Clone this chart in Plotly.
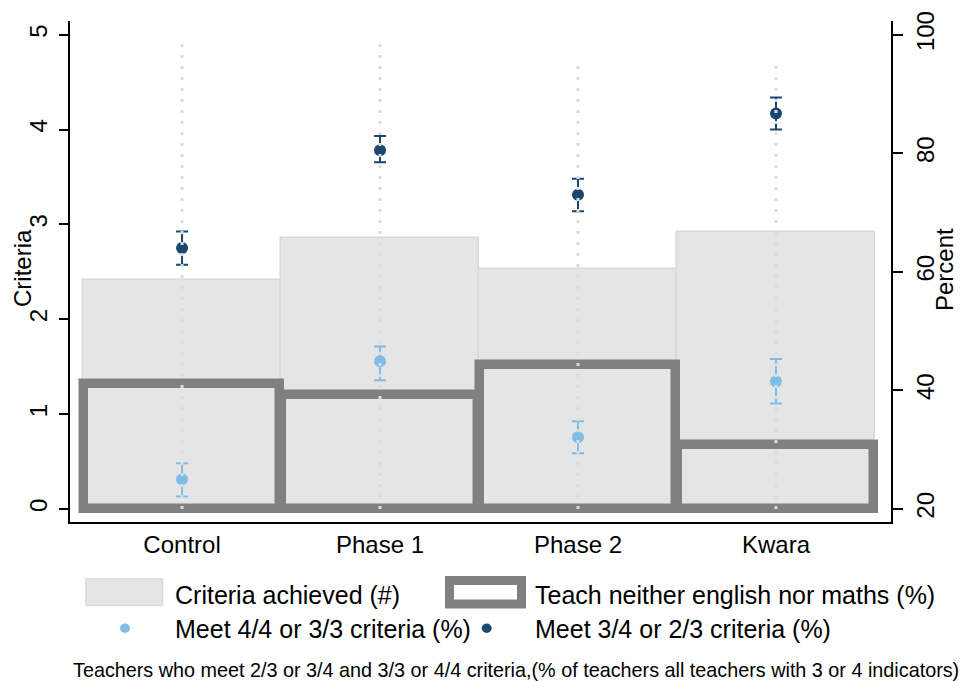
import plotly.graph_objects as go

# ---- data -------------------------------------------------------------
categories = ["Control", "Phase 1", "Phase 2", "Kwara"]

criteria_achieved = [2.41, 2.86, 2.53, 2.92]          # left axis (#)
teach_neither = [41.0, 39.3, 44.2, 30.7]               # right axis (%)

meet_full = [25.0, 44.9, 32.1, 41.5]                   # meet 4/4 or 3/3 (%)
meet_full_lo = [22.1, 41.7, 29.4, 37.8]
meet_full_hi = [27.7, 47.4, 34.8, 45.3]

meet_partial = [64.0, 80.5, 73.0, 86.7]                # meet 3/4 or 2/3 (%)
meet_partial_lo = [61.2, 78.5, 70.2, 84.0]
meet_partial_hi = [66.8, 82.9, 75.7, 89.4]

spread_top = [98.9, 98.9, 95.8, 95.8]                  # top of dotted spread (%)

left_ticks = [0, 1, 2, 3, 4, 5]
right_ticks = [20, 40, 60, 80, 100]

# ---- styling ----------------------------------------------------------
FONT = "Liberation Sans, Arial, sans-serif"
BAR_FILL = "#e5e5e5"
BAR_EDGE = "#d9d9d9"
OUTLINE = "#808080"
LIGHT = "#7fbde9"
DARK = "#1a476f"
DOTS = "#dcdcdc"

W, H = 966, 681
L, R, T, B = 70, 891, 21, 522      # plot area in pixels

x = list(range(len(categories)))


def px(xp):
    return (xp - L) / (R - L)


def py(yp):
    return (B - yp) / (B - T)


fig = go.Figure()

# grey bars: criteria achieved
fig.add_trace(go.Bar(
    x=x, y=criteria_achieved, width=1.0, base=0,
    marker=dict(color=BAR_FILL, line=dict(color=BAR_EDGE, width=1.5)),
    yaxis="y", showlegend=False, hoverinfo="skip",
))

# outlined bars: teach neither english nor maths
fig.add_trace(go.Bar(
    x=x, y=[v - 20 for v in teach_neither], base=20, width=0.99,
    marker=dict(color="rgba(0,0,0,0)", line=dict(color=OUTLINE, width=9.5)),
    yaxis="y2", showlegend=False, hoverinfo="skip",
))

# dark points with confidence intervals
fig.add_trace(go.Scatter(
    x=x, y=meet_partial, mode="markers", yaxis="y2",
    marker=dict(color=DARK, size=12, symbol="circle"),
    error_y=dict(type="data", symmetric=False,
                 array=[h - v for h, v in zip(meet_partial_hi, meet_partial)],
                 arrayminus=[v - l for v, l in zip(meet_partial, meet_partial_lo)],
                 color=DARK, thickness=2, width=6),
    showlegend=False, hoverinfo="skip",
))

# light points with confidence intervals
fig.add_trace(go.Scatter(
    x=x, y=meet_full, mode="markers", yaxis="y2",
    marker=dict(color=LIGHT, size=12, symbol="circle"),
    error_y=dict(type="data", symmetric=False,
                 array=[h - v for h, v in zip(meet_full_hi, meet_full)],
                 arrayminus=[v - l for v, l in zip(meet_full, meet_full_lo)],
                 color=LIGHT, thickness=2, width=6),
    showlegend=False, hoverinfo="skip",
))

# dotted spread columns drawn on top
sx, sy = [], []
for xi, top in zip(x, spread_top):
    sx += [xi, xi, None]
    sy += [20, top, None]
fig.add_trace(go.Scatter(
    x=sx, y=sy, mode="lines", yaxis="y2",
    line=dict(color=DOTS, width=3, dash="3px,8px"),
    showlegend=False, hoverinfo="skip",
))

# ---- axes ---------------------------------------------------------------
x_lo = -0.566
x_hi = 3.581
fig.update_layout(
    width=W, height=H,
    margin=dict(l=L, r=W - R, t=T, b=H - B, pad=0),
    paper_bgcolor="white", plot_bgcolor="white",
    barmode="overlay", bargap=0,
    font=dict(family=FONT, color="black"),
    xaxis=dict(
        range=[x_lo, x_hi], tickvals=x, ticktext=categories,
        showgrid=False, zeroline=False, showline=True, linecolor="black",
        linewidth=2, ticks="", tickfont=dict(size=24), ticklabelstandoff=0,
    ),
    yaxis=dict(
        range=[-0.138, 5.144], tickvals=left_ticks, ticktext=[str(t) for t in left_ticks],
        showgrid=False, zeroline=False, showline=True, linecolor="black",
        linewidth=2, ticks="outside", ticklen=9, tickwidth=2, tickcolor="black",
        tickangle=-90, tickfont=dict(size=24), ticklabelstandoff=2,
    ),
    yaxis2=dict(
        range=[17.79, 102.31], tickvals=right_ticks, ticktext=[str(t) for t in right_ticks],
        overlaying="y", side="right",
        showgrid=False, zeroline=False, showline=True, linecolor="black",
        linewidth=2, ticks="outside", ticklen=10, tickwidth=2, tickcolor="black",
        tickangle=-90, tickfont=dict(size=24), ticklabelstandoff=2,
    ),
)

# axis titles
fig.add_annotation(text="Criteria", xref="paper", yref="paper",
                   x=px(22), y=py(268), textangle=-90, showarrow=False,
                   xanchor="center", yanchor="middle", font=dict(size=24))
fig.add_annotation(text="Percent", xref="paper", yref="paper",
                   x=px(944), y=py(270), textangle=-90, showarrow=False,
                   xanchor="center", yanchor="middle", font=dict(size=24))

# ---- legend -------------------------------------------------------------
fig.add_shape(type="rect", xref="paper", yref="paper",
              x0=px(86), x1=px(162.5), y0=py(605.5), y1=py(579),
              fillcolor=BAR_FILL, line=dict(color=BAR_EDGE, width=1.5))
fig.add_shape(type="rect", xref="paper", yref="paper",
              x0=px(449.5), x1=px(521.5), y0=py(604), y1=py(580.5),
              fillcolor="white", line=dict(color=OUTLINE, width=9))
for cx, col in [(125, LIGHT), (486.7, DARK)]:
    fig.add_shape(type="circle", xref="paper", yref="paper",
                  x0=px(cx - 5), x1=px(cx + 5), y0=py(633), y1=py(623.5),
                  fillcolor=col, line=dict(color=col, width=0))

legend_text = [
    ("Criteria achieved (#)", 173, 595),
    ("Teach neither english nor maths (%)", 533, 595),
    ("Meet 4/4 or 3/3 criteria (%)", 173, 628.5),
    ("Meet 3/4 or 2/3 criteria (%)", 533, 628.5),
]
for txt, lx, ly in legend_text:
    fig.add_annotation(text=txt, xref="paper", yref="paper", x=px(lx), y=py(ly),
                       xanchor="left", yanchor="middle", showarrow=False,
                       font=dict(size=25))

fig.add_annotation(
    text="Teachers who meet 2/3 or 3/4 and 3/3 or 4/4 criteria,(% of teachers all teachers with 3 or 4 indicators)",
    xref="paper", yref="paper", x=px(71), y=py(670), xanchor="left", yanchor="middle",
    showarrow=False, font=dict(size=19.8))

fig.write_html("out.html")
